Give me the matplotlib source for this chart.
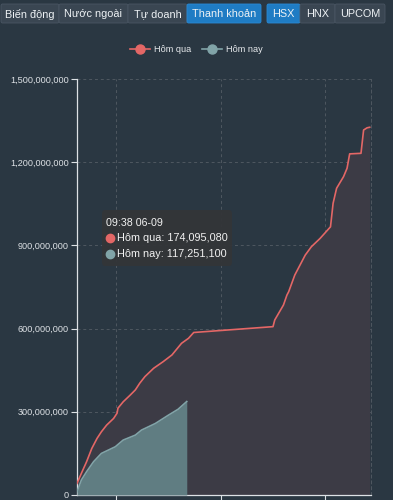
import numpy as np
import matplotlib.pyplot as plt
from matplotlib.patches import FancyBboxPatch
from matplotlib.lines import Line2D

plt.rcParams['font.family'] = ['Liberation Sans', 'DejaVu Sans']

# Hôm qua - thanh khoản lũy kế (triệu CP)
qua_time = ['09:15', '09:20', '09:26', '09:32', '09:38', '09:43', '09:49', '09:57',
            '10:01', '10:02', '10:08', '10:16', '10:22', '10:27', '10:33', '10:43',
            '10:54', '11:04', '11:15', '11:23', '11:29', '13:00', '13:02', '13:12',
            '13:16', '13:18', '13:25', '13:31', '13:37', '13:44', '13:54', '14:06',
            '14:09', '14:13', '14:21', '14:25', '14:28', '14:41', '14:44', '14:48',
            '14:51']
qua_val = [42, 78, 120, 168, 204, 228, 252, 276,
           295, 313, 336, 360, 379, 403, 427, 457,
           481, 505, 547, 565, 586, 607, 631, 685,
           721, 733, 793, 829, 865, 895, 925, 967,
           1052, 1106, 1148, 1178, 1230, 1232, 1316, 1324,
           1326]

# Hôm nay
nay_time = ['09:15', '09:20', '09:26', '09:34', '09:43', '09:51', '09:59', '10:08',
            '10:22', '10:29', '10:45', '11:00', '11:11', '11:21']
nay_val = [12, 54, 84, 120, 150, 162, 174, 198, 216, 234, 258, 288, 309, 337]

y_ticks = [0, 300, 600, 900, 1200, 1500]
x_ticks = ['10:00', '12:00', '14:00']
tabs = ['Biến động', 'Nước ngoài', 'Tự doanh', 'Thanh khoản']
markets = ['HSX', 'HNX', 'UPCOM']

tip_title = '09:38 06-09'
tip_rows = [('Hôm qua', '174,095,080'), ('Hôm nay', '117,251,100')]


def to_min(s):
    h, m = s.split(':')
    return int(h) * 60 + int(m)


bg = '#2a3742'
red = '#e46766'
red_fill = '#3c3b45'
blue = '#81a4a8'
blue_fill = '#607d82'
grid_c = '#4f5860'

W, H = 393, 500
fig = plt.figure(figsize=(W / 100, H / 100), dpi=100, facecolor=bg)


def fx(px):
    return px / W


def fy(py):
    return 1 - py / H


# nút chọn phía trên
def button(x0, x1, label, active):
    fc = '#1f7cc4' if active else '#3a4652'
    ec = '#2a8ad4' if active else '#4a5663'
    fig.patches.append(FancyBboxPatch((fx(x0), fy(23)), fx(x1 - x0), 19 / H,
                                      boxstyle='round,pad=0,rounding_size=0.004',
                                      transform=fig.transFigure, fc=fc, ec=ec, lw=0.6))
    fig.text(fx((x0 + x1) / 2), fy(14), label, ha='center', va='center',
             color='#eef2f5', fontsize=7.8)


tab_x = [1, 59, 128, 187, 261]
for i, t in enumerate(tabs):
    button(tab_x[i], tab_x[i + 1], t, t == 'Thanh khoản')
mk_x = [267, 300, 335, 385]
for i, t in enumerate(markets):
    button(mk_x[i], mk_x[i + 1], t, t == 'HSX')

# biểu đồ
ax = fig.add_axes([fx(77), fy(495), fx(371 - 77), (495 - 79) / H], facecolor=bg)
tq = np.array([to_min(t) for t in qua_time])
tn = np.array([to_min(t) for t in nay_time])

ax.fill_between(tq, qua_val, color=red_fill, lw=0, zorder=2)
ax.plot(tq, qua_val, color=red, lw=1.2, zorder=4)
ax.fill_between(tn, nay_val, color=blue_fill, lw=0, zorder=3)
ax.plot(tn, nay_val, color=blue, lw=1.2, zorder=5)

ax.set_xlim(to_min('09:15'), to_min('14:52') + 0.5)
ax.set_ylim(0, 1500)
ax.set_yticks(y_ticks)
ax.set_yticklabels([f'{v * 1000000:,}' for v in y_ticks])
ax.set_xticks([to_min(t) for t in x_ticks])
ax.set_xticklabels([])
ax.tick_params(axis='y', colors='#dde1e5', labelsize=6.6, length=4, width=0.8, pad=2)
ax.tick_params(axis='x', colors='#dde1e5', length=5, width=0.8)
ax.grid(True, color=grid_c, ls=(0, (3, 3)), lw=0.7, zorder=1)
ax.spines['top'].set_visible(False)
ax.spines['right'].set_color(grid_c)
ax.spines['right'].set_linestyle((0, (3, 3)))
ax.spines['right'].set_linewidth(0.7)
for s in ['left', 'bottom']:
    ax.spines[s].set_color('#dde1e5')
    ax.spines[s].set_linewidth(0.9)

# chú thích
handles = [Line2D([], [], color=red, marker='o', markersize=6.5, lw=1.2),
           Line2D([], [], color=blue, marker='o', markersize=6.5, lw=1.2)]
fig.legend(handles, ['Hôm qua', 'Hôm nay'], loc='center', bbox_to_anchor=(0.5, fy(50)),
           ncol=2, frameon=False, fontsize=6.6, labelcolor='#e6e9ec',
           handlelength=2.2, handletextpad=0.4, columnspacing=1.2)

# tooltip
fig.patches.append(FancyBboxPatch((fx(102), fy(266)), fx(232 - 102), 56 / H,
                                  boxstyle='round,pad=0,rounding_size=0.008',
                                  transform=fig.transFigure, fc='#333538', ec='none',
                                  alpha=0.95, zorder=10))
fig.text(fx(106), fy(222.5), tip_title, color='#f2f2f2', fontsize=7.7,
         ha='left', va='center', zorder=11)
for i, (name, val) in enumerate(tip_rows):
    yy = fy(238 + 16 * i)
    fig.add_artist(Line2D([fx(110)], [yy], marker='o', markersize=6,
                          color=[red, blue][i], transform=fig.transFigure, zorder=11))
    fig.text(fx(117.5), yy, f'{name}: {val}', color='#f2f2f2', fontsize=7.8,
             ha='left', va='center', zorder=11)

fig.savefig('out.png', dpi=100, facecolor=bg)
